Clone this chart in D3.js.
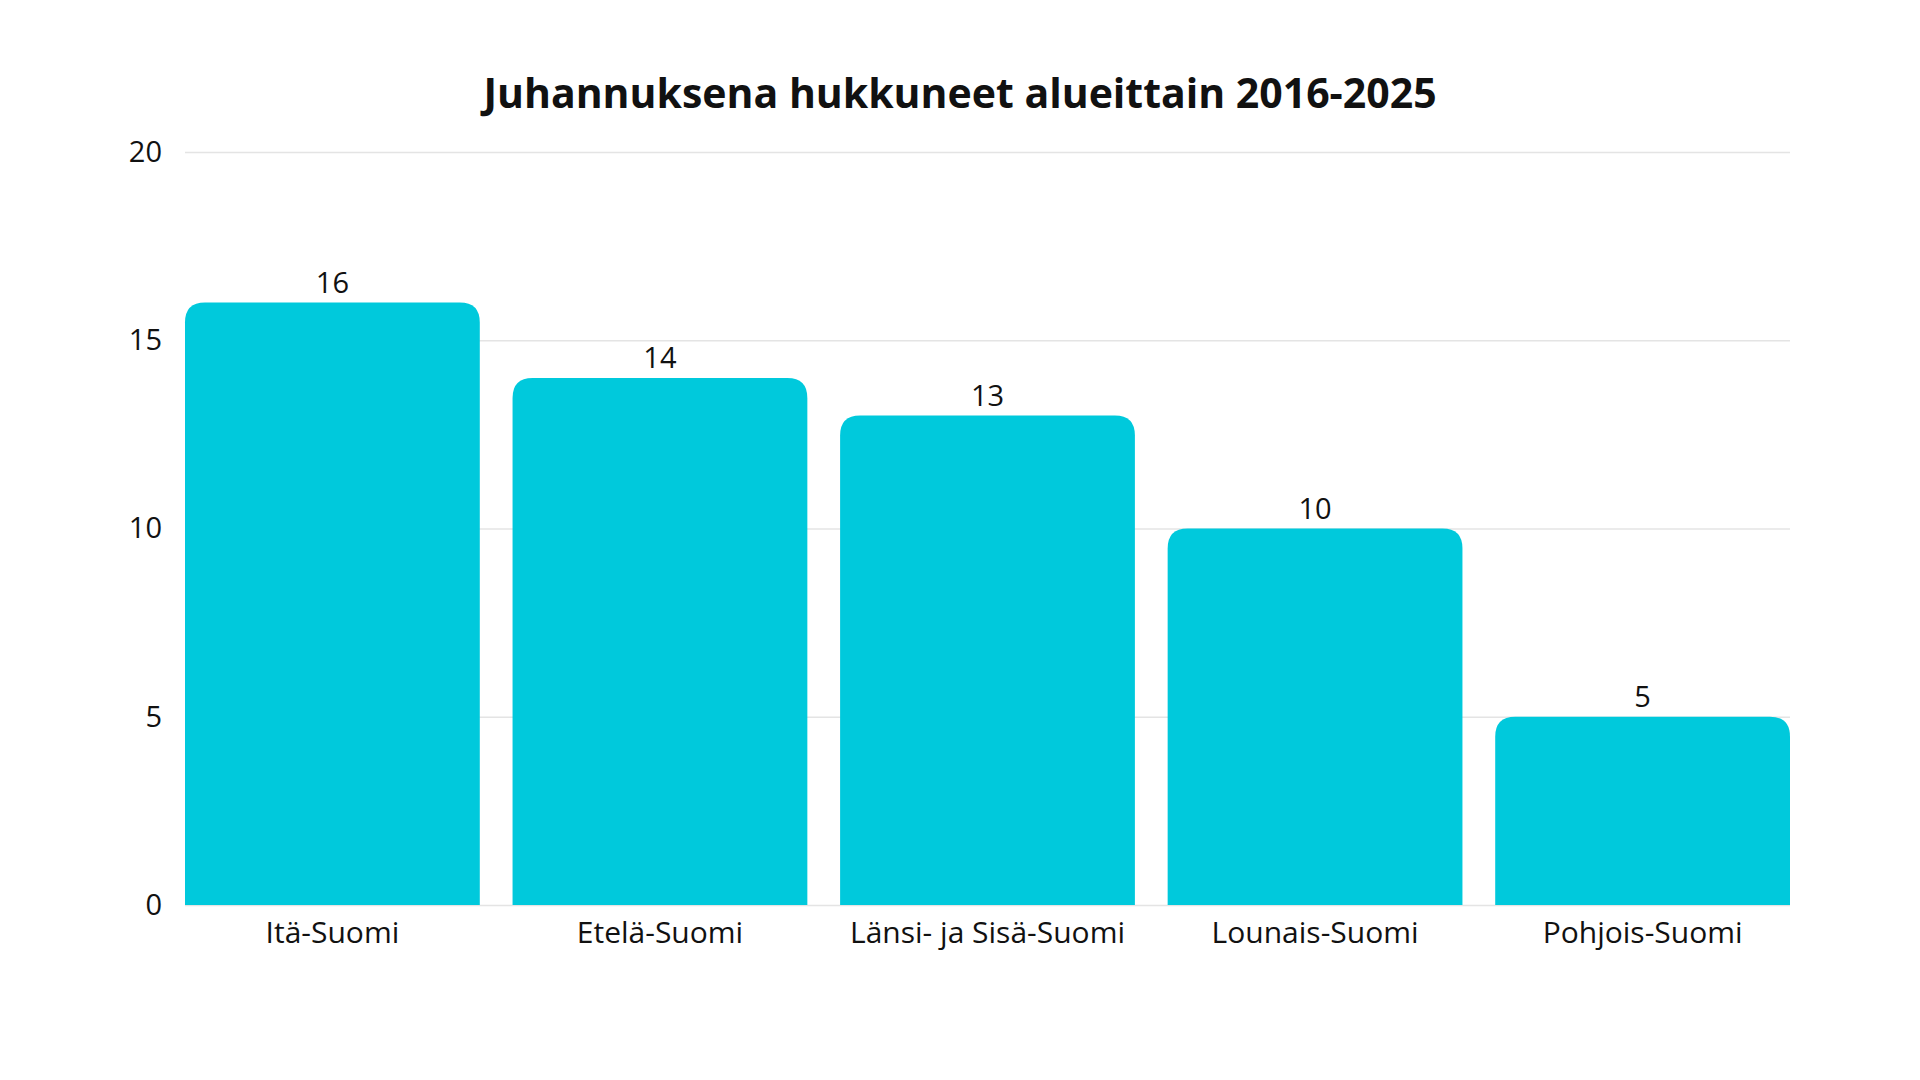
<!DOCTYPE html>
<html>
<head>
<meta charset="utf-8">
<script src="https://cdn.jsdelivr.net/npm/d3@7"></script>
<style>
  body { margin: 0; background: #fff; }
  text { font-family: "Open Sans", sans-serif; fill: #111; }
</style>
</head>
<body>
<div id="chart-area"></div>
<script>
// data
var regions = ["Itä-Suomi", "Etelä-Suomi", "Länsi- ja Sisä-Suomi", "Lounais-Suomi", "Pohjois-Suomi"];
var drowned = [16, 14, 13, 10, 5];
var yTicks = [0, 5, 10, 15, 20];
var title = "Juhannuksena hukkuneet alueittain 2016-2025";

var margin = { left: 185, right: 130, top: 152, bottom: 175 };
var width = 1920 - margin.left - margin.right;
var height = 1080 - margin.top - margin.bottom;

var svg = d3.select("#chart-area")
    .append("svg")
        .attr("width", 1920)
        .attr("height", 1080);

svg.append("text")
    .attr("x", 960)
    .attr("y", 108)
    .attr("text-anchor", "middle")
    .attr("font-size", "41px")
    .attr("font-weight", "bold")
    .attr("fill", "#000")
    .text(title);

var g = svg.append("g")
    .attr("transform", "translate(" + margin.left + ", " + margin.top + ")");

// scales
var x = d3.scaleBand()
    .domain(regions)
    .range([0, width])
    .paddingInner(0.1)
    .paddingOuter(0);
var y = d3.scaleLinear()
    .domain([0, 20])
    .range([height, 0]);

// gridlines + y labels
var yAxisCall = d3.axisLeft(y)
    .tickValues(yTicks)
    .tickSize(-width)
    .tickPadding(23)
    .tickFormat(function(d){ return d; });

var yAxis = g.append("g")
    .attr("class", "LeftAxis")
    .call(yAxisCall);
yAxis.select(".domain").remove();
yAxis.selectAll(".tick line")
    .attr("stroke", "#e4e4e4")
    .attr("stroke-width", 1.5);
yAxis.selectAll(".tick text")
    .attr("font-size", "29px")
    .attr("font-family", "Open Sans, sans-serif")
    .attr("fill", "#111");

// x labels
var xAxisCall = d3.axisBottom(x).tickSize(0).tickPadding(0);
var xAxis = g.append("g")
    .attr("class", "BottomAxis")
    .attr("transform", "translate(0, " + height + ")")
    .call(xAxisCall);
xAxis.select(".domain").remove();
xAxis.selectAll(".tick text")
    .attr("y", 38)
    .attr("dy", 0)
    .attr("font-size", "30px")
    .attr("font-family", "Open Sans, sans-serif")
    .attr("fill", "#111");

// bars with rounded top corners
var r = 20;
function barPath(d, i) {
    var x0 = x(regions[i]), x1 = x0 + x.bandwidth();
    var y0 = y(d), yb = y(0);
    return "M" + x0 + "," + yb +
        "L" + x0 + "," + (y0 + r) +
        "Q" + x0 + "," + y0 + " " + (x0 + r) + "," + y0 +
        "L" + (x1 - r) + "," + y0 +
        "Q" + x1 + "," + y0 + " " + x1 + "," + (y0 + r) +
        "L" + x1 + "," + yb + "Z";
}

g.selectAll("path.bar")
    .data(drowned)
    .enter()
    .append("path")
    .attr("class", "bar")
    .attr("fill", "#00c9dc")
    .attr("d", barPath);

// value labels
g.selectAll("text.value")
    .data(drowned)
    .enter()
    .append("text")
    .attr("class", "value")
    .attr("x", function(d, i){ return x(regions[i]) + x.bandwidth() / 2; })
    .attr("y", function(d){ return y(d) - 10; })
    .attr("text-anchor", "middle")
    .attr("font-size", "29px")
    .text(function(d){ return d; });
</script>
</body>
</html>
